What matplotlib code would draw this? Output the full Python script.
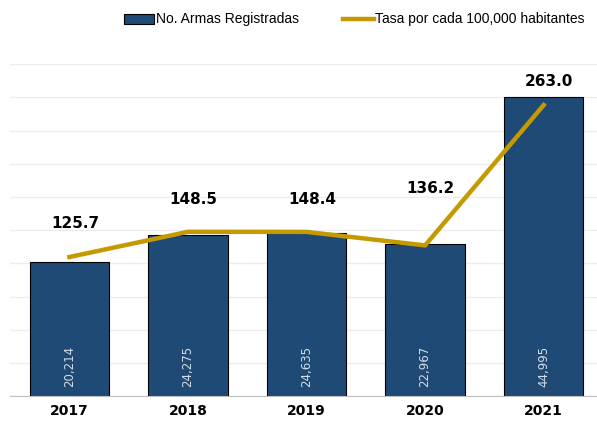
import matplotlib.pyplot as plt
import numpy as np

# data
years = ['2017', '2018', '2019', '2020', '2021']
armas = [20214, 24275, 24635, 22967, 44995]
tasa = [125.7, 148.5, 148.4, 136.2, 263.0]

# label offsets (points) above the line points
tasa_off = [24, 23, 23, 41, 17]

bar_color = '#1F4A75'
line_color = '#C49A00'

fig = plt.figure(figsize=(5.97, 4.25), dpi=100)
ax = fig.add_axes([0.017, 0.068, 0.983, 0.781])
ax2 = ax.twinx()

x = np.arange(len(years))
ax.bar(x, armas, width=0.67, color=bar_color, edgecolor='black', linewidth=0.8,
       zorder=2, label='No. Armas Registradas')
ax.set_ylim(0, 50000)
ax.set_yticks(np.arange(0, 50001, 5000))
ax.yaxis.grid(True, color='#EDEDED', linewidth=1)
ax.set_axisbelow(True)
ax.set_xlim(-0.5, 4.45)
ax.set_xticks(x)
ax.set_xticklabels(years, fontweight='bold', fontsize=10)
ax.tick_params(axis='x', length=0, pad=6)
ax.tick_params(axis='y', length=0, labelleft=False)
for s in ['top', 'right', 'left']:
    ax.spines[s].set_visible(False)
    ax2.spines[s].set_visible(False)
ax.spines['bottom'].set_color('#BFBFBF')
ax2.spines['bottom'].set_visible(False)

for xi, v in zip(x, armas):
    ax.text(xi, 1300, f'{v:,}', rotation=90, ha='center', va='bottom',
            color='#D6DCE5', fontsize=8.5, zorder=3)

ax2.plot(x, tasa, color=line_color, linewidth=3.2, zorder=4,
         label='Tasa por cada 100,000 habitantes')
ax2.set_ylim(0, 300)
ax2.tick_params(axis='y', length=0, labelright=False)
ax2.set_yticks([])
for xi, v, off in zip(x, tasa, tasa_off):
    ax2.annotate(f'{v:.1f}', (xi, v), xytext=(4, off), textcoords='offset points',
                 ha='center', va='center', fontweight='bold', fontsize=11)

h1, l1 = ax.get_legend_handles_labels()
h2, l2 = ax2.get_legend_handles_labels()
fig.legend(h1 + h2, l1 + l2, loc='upper right', bbox_to_anchor=(1.0, 1.0), ncol=2,
           frameon=False, prop={'family': 'Liberation Sans', 'size': 10},
           columnspacing=3.2, handlelength=2.2, handletextpad=0.1)

fig.savefig('out.png', dpi=100)
